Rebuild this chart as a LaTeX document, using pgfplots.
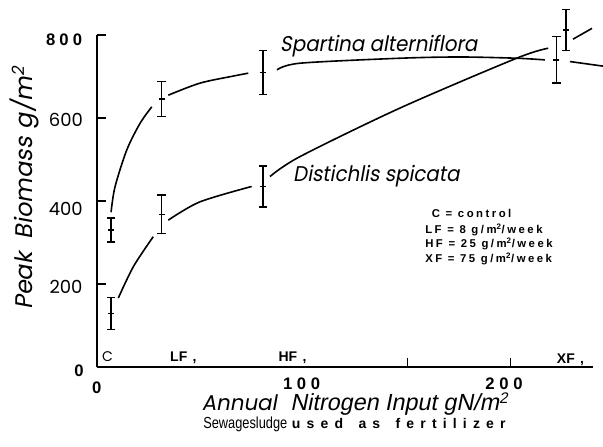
\documentclass[border=0pt]{standalone}
\usepackage{fontspec}
\setmainfont{Liberation Sans}
\newfontfamily\ag{Poppins}
\newfontfamily\agi{Poppins}[FakeSlant=0.18,FakeStretch=0.93]
\newfontfamily\agy{Poppins}[FakeSlant=0.18,FakeStretch=1.0]
\newfontfamily\hvi{Liberation Sans}[FakeSlant=0.2]
\newfontfamily\hvn{Liberation Sans}[FakeStretch=0.8]
\newfontfamily\hvsp{Liberation Sans}[LetterSpace=44]
\newfontfamily\hvleg{Liberation Sans}[LetterSpace=22]
\usepackage{pgfplots}
\pgfplotsset{compat=1.18}

\begin{document}
\begin{tikzpicture}
\begin{axis}[
    scale only axis,
    width=372pt, height=249pt,
    xmin=0, xmax=240, ymin=0, ymax=800,
    axis x line=bottom, axis y line=left,
    axis line style={line width=2pt, -},
    xtick={150,200}, ytick={200,400,600,800},
    xticklabels={}, yticklabels={},
    tick align=inside, major tick length=7pt,
    tick style={line width=0.8pt, black},
    clip=false,
]
% Spartina alterniflora, curve pieces between the bars
\addplot[black, line width=1.2pt, smooth] coordinates {(6.8,373) (8.7,434) (14.4,523) (20.8,587) (26.5,627)};
\addplot[black, line width=1.2pt, smooth] coordinates {(34.5,655) (49.8,684) (65.9,701) (73.2,708)};
\addplot[black, line width=1.2pt, smooth] coordinates {(87.1,716) (98.2,732) (146.6,744) (175.6,747) (203,744) (216.7,740)};
\addplot[black, line width=1.2pt, smooth] coordinates {(228.8,736) (244.8,725)};
% Distichlis spicata
\addplot[black, line width=1.2pt, smooth] coordinates {(10.3,166) (17.6,242) (27.2,314)};
\addplot[black, line width=1.2pt, smooth] coordinates {(34.5,354) (49.8,398) (74.8,435)};
\addplot[black, line width=1.2pt, smooth] coordinates {(83.7,459) (98.2,507) (146.6,624) (203,744) (218.3,768)};
\addplot[black, line width=1.2pt, smooth] coordinates {(230.3,790) (239.5,816)};

% error bars
\pgfplotsset{bars/.style={black, only marks, mark=-, mark size=2.3pt, mark options={line width=1pt},
    error bars/.cd, y dir=both, y explicit, error mark=-,
    error mark options={rotate=90, mark size=3.2pt, line width=1.1pt, black},
    error bar style={line width=1.1pt, black}}}
\addplot[bars] coordinates {
    (6.8,330) +- (0,29)
    (31.3,646) +- (0,42)
    (80.2,709) +- (0,53)
    (222.2,740) +- (0,56)
};
\addplot[bars] coordinates {
    (6.8,129) +- (0,39)
    (31.3,368) +- (0,46)
    (80.2,435) +- (0,49)
    (226.8,812) +- (0,50)
};

% curve names
\node[anchor=base west, inner sep=0, font=\agi\fontsize{16}{18}\selectfont] at (axis cs:88.5,760) {Spartina alterniflora};
\node[anchor=base west, inner sep=0, font=\agi\fontsize{16}{18}\selectfont] at (axis cs:94.8,446.5) {Distichlis spicata};

% key
\node[anchor=base west, inner sep=0, font=\hvleg\bfseries\fontsize{8.5}{9}\selectfont] at (axis cs:161.9,361.4) {C = control};
\node[anchor=base west, inner sep=0, font=\hvleg\bfseries\fontsize{8.5}{9}\selectfont] at (axis cs:158.7,322.9) {LF = 8 g/m\textsuperscript{2}/week};
\node[anchor=base west, inner sep=0, font=\hvleg\bfseries\fontsize{8.5}{9}\selectfont] at (axis cs:158.7,289.2) {HF = 25 g/m\textsuperscript{2}/week};
\node[anchor=base west, inner sep=0, font=\hvleg\bfseries\fontsize{8.5}{9}\selectfont] at (axis cs:158.7,253) {XF = 75 g/m\textsuperscript{2}/week};

% treatment names along the bottom
\node[anchor=base west, inner sep=0, font=\ag\fontsize{10.5}{12}\selectfont] at (axis cs:2.4,12.8) {C};
\node[anchor=base west, inner sep=0, font=\bfseries\fontsize{10.5}{12}\selectfont] at (axis cs:35.3,12.8) {LF\hspace{4pt},};
\node[anchor=base west, inner sep=0, font=\bfseries\fontsize{10.5}{12}\selectfont] at (axis cs:87.7,12.8) {HF\hspace{4pt},};
\node[anchor=base west, inner sep=0, font=\bfseries\fontsize{10.5}{12}\selectfont] at (axis cs:222.4,9) {XF\hspace{4pt},};

% tick labels
\node[inner sep=0, font=\bfseries\fontsize{12.5}{14}\selectfont] at (axis cs:-15.9,788) {8\hspace{3pt}0\hspace{3pt}0};
\node[inner sep=0, font=\ag\fontsize{13.5}{15}\selectfont] at (axis cs:-15.0,596) {600};
\node[inner sep=0, font=\ag\fontsize{13.5}{15}\selectfont] at (axis cs:-15.1,381) {400};
\node[inner sep=0, font=\ag\fontsize{13.5}{15}\selectfont] at (axis cs:-15.0,192) {200};
\node[inner sep=0, font=\bfseries\fontsize{12.5}{14}\selectfont] at (axis cs:-8.7,-9.6) {0};
\node[inner sep=0, font=\bfseries\fontsize{12.5}{14}\selectfont] at (axis cs:-0.15,-49.4) {0};
\node[inner sep=0, font=\bfseries\fontsize{12.5}{14}\selectfont] at (axis cs:99,-39.5) {1\hspace{3.5pt}0\hspace{3.5pt}0};
\node[inner sep=0, font=\bfseries\fontsize{12.5}{14}\selectfont] at (axis cs:196.9,-39.5) {2\hspace{3.5pt}0\hspace{3.5pt}0};

% axis titles
\node[rotate=90, anchor=base west, inner sep=0, font=\agy\fontsize{18}{20}\selectfont] at (axis cs:-30.97,137.3) {Peak\hspace{10pt}Biomass\hspace{6pt}g/m\textsuperscript{2}};
\node[anchor=base west, inner sep=0, font=\agy\fontsize{16}{18}\selectfont] at (axis cs:50.6,-103.6) {Annual};
\node[anchor=base west, inner sep=0, font=\hvi\fontsize{17.5}{19}\selectfont] at (axis cs:93.4,-103.6) {Nitrogen Input gN/m\raisebox{0.28em}{\fontsize{11.5}{12}\selectfont 2}};
\node[anchor=base west, inner sep=0, font=\hvn\fontsize{12}{14}\selectfont] at (axis cs:51.3,-147) {Sewagesludge};
\node[anchor=base west, inner sep=0, font=\hvsp\bfseries\fontsize{10.5}{12}\selectfont] at (axis cs:94.2,-147) {used\hspace{4pt} as\hspace{4pt} fertilizer};

\coordinate (bbl) at (axis cs:-46.93,-190.4);
\coordinate (btr) at (axis cs:244.8,884.3);
\end{axis}
\pgfresetboundingbox
\useasboundingbox (bbl) rectangle (btr);
\end{tikzpicture}
\end{document}
